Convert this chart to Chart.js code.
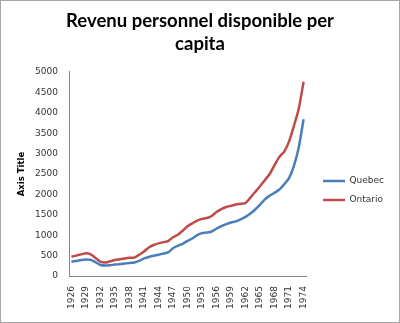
<!DOCTYPE html>
<html>
<head>
<meta charset="utf-8">
<script src="https://cdn.jsdelivr.net/npm/chart.js@4.4.0/dist/chart.umd.min.js"></script>
<style>
  html, body { margin: 0; padding: 0; background: #fff; }
  #wrap { width: 400px; height: 323px; position: relative; }
</style>
</head>
<body>
<div id="wrap"><canvas id="chart"></canvas></div>
<script>
const years = ['1926','1927','1928','1929','1930','1931','1932','1933','1934','1935',
  '1936','1937','1938','1939','1940','1941','1942','1943','1944','1945',
  '1946','1947','1948','1949','1950','1951','1952','1953','1954','1955',
  '1956','1957','1958','1959','1960','1961','1962','1963','1964','1965',
  '1966','1967','1968','1969','1970','1971','1972','1973','1974'];

const quebec = [350, 370, 390, 405, 395, 340, 270, 255, 265, 280,
  290, 305, 320, 330, 370, 430, 465, 495, 520, 550,
  580, 680, 740, 790, 860, 920, 1000, 1050, 1065, 1090,
  1160, 1220, 1270, 1310, 1340, 1390, 1450, 1530, 1630, 1750,
  1880, 1970, 2040, 2120, 2250, 2400, 2700, 3150, 3840];

const ontario = [473, 500, 530, 555, 530, 440, 350, 330, 360, 390,
  410, 430, 445, 450, 520, 600, 700, 760, 800, 830,
  855, 950, 1010, 1110, 1220, 1290, 1360, 1400, 1420, 1470,
  1570, 1640, 1690, 1720, 1750, 1770, 1790, 1920, 2060, 2200,
  2350, 2500, 2720, 2920, 3050, 3300, 3680, 4100, 4760];

const chartTitle = ['Revenu personnel disponible per', 'capita'];
const yTitle = 'Axis Title';

Chart.defaults.font.family = "'DejaVu Sans'";

// bordure + position de la légende
const frame = {
  id: 'frame',
  afterInit(chart) {
    const lg = chart.legend;
    const fit = lg.fit;
    lg.fit = function () { fit.call(this); this.width = 94; };
  },
  afterLayout(chart) {
    const lg = chart.legend;
    lg.left += 7; lg.right += 7;
    lg.top += 29; lg.bottom += 29;
  },
  afterDraw(chart) {
    const ctx = chart.ctx;
    ctx.save();
    ctx.strokeStyle = '#a6a6a6';
    ctx.lineWidth = 1;
    ctx.strokeRect(0.5, 0.5, chart.width - 1, chart.height - 1);
    ctx.restore();
  }
};

const tickFont = { family: "'DejaVu Sans'", size: 9 };

new Chart(document.getElementById('chart'), {
  type: 'line',
  data: {
    labels: years,
    datasets: [
      { label: 'Quebec', data: quebec, borderColor: '#4a7ebb', backgroundColor: '#4a7ebb',
        borderWidth: 2.5, pointRadius: 0, tension: 0.25 },
      { label: 'Ontario', data: ontario, borderColor: '#be4b48', backgroundColor: '#be4b48',
        borderWidth: 2.5, pointRadius: 0, tension: 0.25 }
    ]
  },
  options: {
    responsive: true,
    maintainAspectRatio: false,
    animation: false,
    layout: { padding: 0 },
    plugins: {
      title: {
        display: true,
        text: chartTitle,
        color: '#000',
        font: { family: 'Lato', size: 18.5, weight: 'bold', lineHeight: 1.27 },
        padding: { top: 9, bottom: 16 }
      },
      legend: {
        position: 'right',
        labels: {
          usePointStyle: true,
          pointStyle: 'line',
          pointStyleWidth: 22,
          boxHeight: 9,
          padding: 10,
          color: '#333',
          font: tickFont
        }
      },
      tooltip: { enabled: false }
    },
    scales: {
      x: {
        offset: true,
        grid: { display: false, drawTicks: false },
        border: { display: true, color: '#868686', width: 1 },
        ticks: {
          autoSkip: false,
          minRotation: 90,
          maxRotation: 90,
          padding: 10,
          color: '#333',
          font: tickFont,
          callback: (v, i) => (i % 3 === 0 ? years[i] : '')
        },
        afterFit(s) { s.height = 47; }
      },
      y: {
        min: 0,
        max: 5000,
        grid: { display: false, drawTicks: false },
        border: { display: true, color: '#868686', width: 1 },
        ticks: { stepSize: 500, padding: 11, color: '#333', font: tickFont,
          callback: v => String(v) },
        title: {
          display: true,
          text: yTitle,
          color: '#000',
          font: { family: "'DejaVu Sans'", size: 8.5, weight: 'bold' },
          padding: { top: 17, bottom: 0 }
        },
        afterFit(s) { s.width = 69; }
      }
    }
  },
  plugins: [frame]
});
</script>
</body>
</html>
